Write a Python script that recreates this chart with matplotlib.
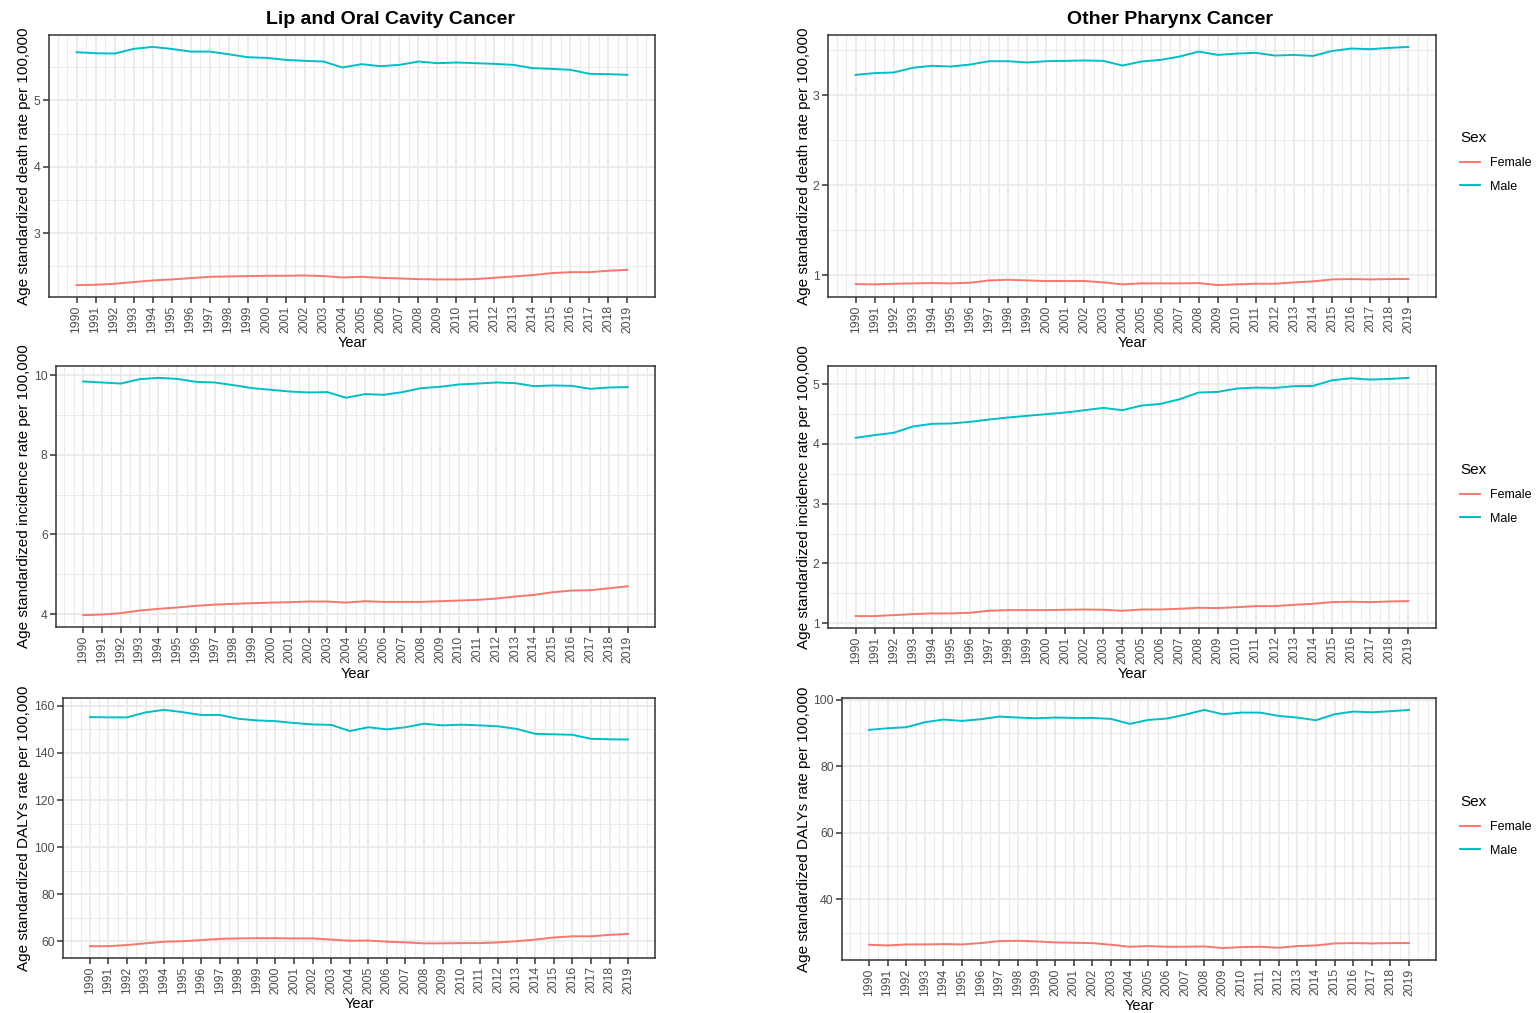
import matplotlib
matplotlib.use("Agg")
import matplotlib.pyplot as plt
from matplotlib.ticker import FixedLocator, MultipleLocator

plt.rcParams["font.family"] = ["Liberation Sans", "DejaVu Sans"]

# ==============================
# DATA (age standardized rates per 100,000)
# ==============================

YEARS = list(range(1990, 2020))
SEXES = ["Female", "Male"]

lip_death_female = [2.22, 2.225, 2.24, 2.265, 2.29, 2.305, 2.325, 2.345, 2.35, 2.355,
                    2.36, 2.36, 2.365, 2.355, 2.335, 2.345, 2.33, 2.32, 2.31, 2.305,
                    2.305, 2.31, 2.33, 2.35, 2.37, 2.40, 2.415, 2.415, 2.435, 2.45]
lip_death_male = [5.725, 5.71, 5.705, 5.775, 5.805, 5.775, 5.735, 5.735, 5.695, 5.65,
                  5.64, 5.61, 5.595, 5.585, 5.495, 5.545, 5.515, 5.535, 5.585, 5.56,
                  5.57, 5.56, 5.55, 5.535, 5.485, 5.475, 5.46, 5.40, 5.395, 5.385]

phar_death_female = [0.90, 0.897, 0.904, 0.908, 0.911, 0.908, 0.915, 0.941, 0.948, 0.941,
                     0.934, 0.934, 0.934, 0.919, 0.897, 0.908, 0.908, 0.908, 0.911, 0.889,
                     0.897, 0.904, 0.904, 0.919, 0.93, 0.952, 0.956, 0.952, 0.956, 0.956]
phar_death_male = [3.225, 3.244, 3.251, 3.303, 3.325, 3.317, 3.339, 3.376, 3.376, 3.362,
                   3.376, 3.38, 3.384, 3.38, 3.328, 3.373, 3.391, 3.428, 3.483, 3.446,
                   3.461, 3.469, 3.439, 3.446, 3.435, 3.49, 3.517, 3.51, 3.524, 3.535]

lip_inc_female = [3.975, 3.99, 4.025, 4.09, 4.133, 4.167, 4.208, 4.24, 4.258, 4.275,
                  4.29, 4.30, 4.317, 4.317, 4.29, 4.325, 4.308, 4.308, 4.308, 4.325,
                  4.342, 4.358, 4.392, 4.442, 4.483, 4.55, 4.592, 4.60, 4.65, 4.70]
lip_inc_male = [9.842, 9.817, 9.79, 9.9, 9.933, 9.908, 9.833, 9.817, 9.75, 9.675,
                9.633, 9.59, 9.567, 9.575, 9.433, 9.525, 9.508, 9.575, 9.675, 9.708,
                9.767, 9.79, 9.817, 9.8, 9.725, 9.742, 9.733, 9.658, 9.692, 9.7]

phar_inc_female = [1.117, 1.117, 1.134, 1.15, 1.162, 1.162, 1.173, 1.206, 1.217, 1.217,
                   1.217, 1.223, 1.228, 1.223, 1.206, 1.228, 1.228, 1.24, 1.256, 1.251,
                   1.267, 1.284, 1.284, 1.306, 1.323, 1.351, 1.357, 1.351, 1.362, 1.368]
phar_inc_male = [4.103, 4.148, 4.187, 4.292, 4.337, 4.343, 4.37, 4.409, 4.443, 4.471,
                 4.499, 4.526, 4.565, 4.604, 4.565, 4.643, 4.671, 4.749, 4.861, 4.872,
                 4.928, 4.944, 4.939, 4.967, 4.972, 5.067, 5.10, 5.078, 5.089, 5.106]

lip_daly_female = [58.0, 58.0, 58.5, 59.2, 59.9, 60.1, 60.6, 61.1, 61.3, 61.4,
                   61.4, 61.3, 61.3, 60.8, 60.3, 60.4, 59.9, 59.6, 59.2, 59.2,
                   59.3, 59.3, 59.6, 60.1, 60.8, 61.7, 62.2, 62.2, 62.8, 63.2]
lip_daly_male = [155.2, 155.1, 155.1, 157.2, 158.3, 157.3, 156.1, 156.1, 154.5, 153.8,
                 153.5, 152.7, 152.1, 151.9, 149.3, 150.9, 150.0, 150.9, 152.4, 151.7,
                 152.0, 151.7, 151.3, 150.2, 148.1, 147.9, 147.7, 146.0, 145.8, 145.7]

phar_daly_female = [26.4, 26.2, 26.5, 26.5, 26.6, 26.5, 26.9, 27.5, 27.6, 27.4,
                    27.1, 27.0, 26.9, 26.4, 25.8, 26.0, 25.8, 25.8, 25.9, 25.4,
                    25.7, 25.8, 25.5, 26.0, 26.2, 26.8, 26.9, 26.8, 26.9, 26.9]
phar_daly_male = [90.9, 91.4, 91.7, 93.2, 94.0, 93.6, 94.1, 94.9, 94.6, 94.4,
                  94.6, 94.5, 94.5, 94.2, 92.7, 93.9, 94.3, 95.5, 96.9, 95.6,
                  96.1, 96.1, 95.1, 94.6, 93.8, 95.6, 96.4, 96.2, 96.5, 96.9]

# ==============================
# STYLE
# ==============================

W, H = 1538, 1013
COLORS = {"Female": "#F8766D", "Male": "#00BFC4"}
GRID = "#EBEBEB"
DARK = "#333333"
TICK_TEXT = "#4D4D4D"

fig = plt.figure(figsize=(W / 100, H / 100), dpi=100)


def panel(box, female, male, step, ylabel, ylabel_x, xlabel_y, title=None,
          title_x=None, legend_y=None):
    # box = (left, top, right, bottom) in pixels
    l, t, r, b = box
    ax = fig.add_axes([l / W, 1 - b / H, (r - l) / W, (b - t) / H])

    for sex, values in zip(SEXES, [female, male]):
        ax.plot(YEARS, values, color=COLORS[sex], lw=1.4, label=sex)

    # ggplot-style 5% expansion
    lo, hi = min(female + male), max(female + male)
    pad = 0.05 * (hi - lo)
    ax.set_ylim(lo - pad, hi + pad)
    xpad = 0.05 * (YEARS[-1] - YEARS[0])
    ax.set_xlim(YEARS[0] - xpad, YEARS[-1] + xpad)

    ax.xaxis.set_major_locator(FixedLocator(YEARS))
    ax.xaxis.set_minor_locator(MultipleLocator(0.5))
    ax.set_xticklabels([str(y) for y in YEARS], rotation=90)
    ax.yaxis.set_major_locator(MultipleLocator(step))
    ax.yaxis.set_minor_locator(MultipleLocator(step / 2))

    ax.set_axisbelow(True)
    ax.grid(which="major", color=GRID, lw=1.4)
    ax.grid(which="minor", color=GRID, lw=0.7)
    ax.tick_params(which="minor", length=0)
    ax.tick_params(which="major", length=4, width=1.1, color=DARK,
                   labelcolor=TICK_TEXT, labelsize=8.8, pad=2)
    for s in ax.spines.values():
        s.set_color(DARK)
        s.set_linewidth(1.1)

    ax.set_ylabel(ylabel, fontsize=11)
    ax.yaxis.set_label_coords((ylabel_x - l) / (r - l), 0.5)
    ax.set_xlabel("Year", fontsize=10.5)
    ax.xaxis.set_label_coords(0.5, -(xlabel_y - b) / (b - t))

    if title:
        fig.text(title_x / W, 1 - 19 / H, title, fontsize=14, fontweight="bold",
                 ha="center", va="center")

    if legend_y is not None:
        ax.legend(title="Sex", loc="upper left",
                  bbox_to_anchor=(1460 / W, 1 - legend_y / H),
                  bbox_transform=fig.transFigure, frameon=False, fontsize=9,
                  title_fontsize=11, handlelength=1.6, handletextpad=0.8,
                  labelspacing=0.95, borderpad=0, borderaxespad=0,
                  alignment="left")
    return ax


# Lip and oral cavity (left column)
panel((49, 35, 655, 297), lip_death_female, lip_death_male, 1,
      "Age standardized death rate per 100,000", 31, 336,
      title="Lip and Oral Cavity Cancer", title_x=390)
panel((56, 366, 655, 627), lip_inc_female, lip_inc_male, 2,
      "Age standardized incidence rate per 100,000", 31, 667)
panel((63, 698, 655, 958), lip_daly_female, lip_daly_male, 20,
      "Age standardized DALYs rate per 100,000", 31, 997)

# Other pharynx (right column)
panel((828, 35, 1436, 297), phar_death_female, phar_death_male, 1,
      "Age standardized death rate per 100,000", 811, 336,
      title="Other Pharynx Cancer", title_x=1170, legend_y=131)
panel((828, 366, 1436, 628), phar_inc_female, phar_inc_male, 1,
      "Age standardized incidence rate per 100,000", 811, 667, legend_y=463)
panel((842, 698, 1436, 960), phar_daly_female, phar_daly_male, 20,
      "Age standardized DALYs rate per 100,000", 811, 999, legend_y=795)

fig.savefig("out.png", dpi=100)
